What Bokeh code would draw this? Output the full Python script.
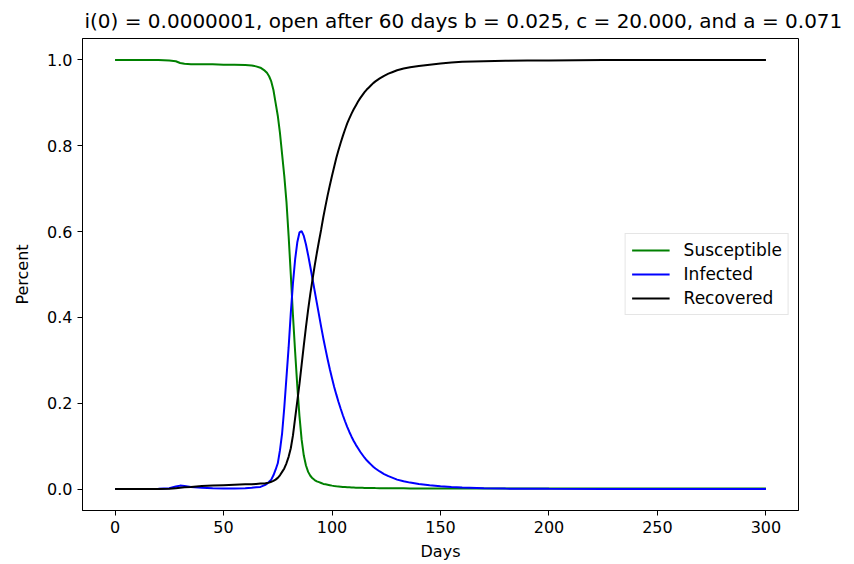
from bokeh.plotting import figure
from bokeh.models import ColumnDataSource, Range1d, FixedTicker, NumeralTickFormatter
from bokeh.embed import file_html
from bokeh.resources import INLINE

title_text = "i(0) = 0.0000001, open after 60 days b = 0.025, c = 20.000, and a = 0.071"

days = [0, 10, 20, 25, 28, 30, 32, 35, 40, 45, 50, 55, 60, 63, 65, 67, 69, 70, 71, 72,
        73, 74, 75, 76, 77, 78, 79, 80, 81, 82, 83, 84, 85, 86, 87, 88, 89, 90, 91, 92,
        93, 94, 95, 96, 97, 98, 99, 100, 101, 102, 103, 104, 105, 106, 107, 108, 109, 110,
        111, 112, 113, 114, 115, 116, 117, 118, 119, 120, 122, 124, 126, 128, 130, 133,
        136, 140, 145, 150, 155, 160, 170, 180, 190, 200, 225, 250, 275, 300]

susceptible = [1.0, 1.0, 1.0, 0.999, 0.997, 0.993, 0.991, 0.990, 0.990, 0.990, 0.989, 0.989,
               0.988, 0.987, 0.985, 0.982, 0.975, 0.970, 0.962, 0.950,
               0.930, 0.900, 0.870, 0.830, 0.780, 0.730, 0.670, 0.590, 0.500, 0.405,
               0.320, 0.240, 0.170, 0.115, 0.078, 0.055, 0.040, 0.031, 0.025, 0.021,
               0.018, 0.016, 0.014, 0.012, 0.011, 0.010, 0.009, 0.008, 0.0072, 0.0065, 0.006,
               0.0055, 0.005, 0.0046, 0.0042, 0.0039, 0.0036, 0.0034,
               0.0032, 0.003, 0.0029, 0.0028, 0.0027, 0.0026, 0.0025, 0.0024, 0.0023, 0.0022,
               0.0021, 0.002, 0.0019, 0.0018, 0.0017, 0.0016,
               0.0015, 0.0015, 0.0014, 0.0013, 0.0013, 0.0012, 0.0011, 0.001, 0.001, 0.001,
               0.001, 0.001, 0.001, 0.001]

infected = [0.0, 0.0, 0.0005, 0.002, 0.006, 0.008, 0.007, 0.005, 0.003, 0.002, 0.0015, 0.0015,
            0.002, 0.003, 0.004, 0.005, 0.009, 0.012, 0.017, 0.022,
            0.032, 0.045, 0.060, 0.090, 0.130, 0.190, 0.260, 0.330, 0.410, 0.480,
            0.535, 0.575, 0.598, 0.601, 0.590, 0.570, 0.545, 0.518, 0.490, 0.462,
            0.434, 0.406, 0.378, 0.351, 0.326, 0.302, 0.279, 0.258, 0.238, 0.220, 0.203,
            0.187, 0.172, 0.158, 0.145, 0.133, 0.122, 0.112,
            0.103, 0.095, 0.087, 0.080, 0.073, 0.067, 0.062, 0.057, 0.052, 0.048,
            0.041, 0.035, 0.030, 0.026, 0.022, 0.018,
            0.015, 0.012, 0.009, 0.0065, 0.0048, 0.0035, 0.0019, 0.001, 0.0006, 0.0004,
            0.0001, 0.0, 0.0, 0.0]

recovered = [0.0, 0.0, 0.0, 0.0005, 0.002, 0.003, 0.004, 0.005, 0.007, 0.008, 0.009, 0.010,
             0.011, 0.011, 0.012, 0.013, 0.013, 0.014, 0.015, 0.017,
             0.019, 0.022, 0.026, 0.032, 0.040, 0.048, 0.060, 0.075, 0.095, 0.125,
             0.165, 0.205, 0.245, 0.290, 0.335, 0.378, 0.418, 0.455, 0.488, 0.520,
             0.550, 0.578, 0.605, 0.634, 0.660, 0.685, 0.708, 0.730, 0.751, 0.772, 0.790,
             0.807, 0.823, 0.838, 0.852, 0.864, 0.875, 0.885,
             0.894, 0.903, 0.911, 0.918, 0.925, 0.931, 0.936, 0.941, 0.946, 0.950,
             0.957, 0.963, 0.968, 0.972, 0.976, 0.980,
             0.983, 0.986, 0.989, 0.992, 0.994, 0.996, 0.997, 0.998, 0.999, 0.999,
             1.0, 1.0, 1.0, 1.0]

x_ticks = [0, 50, 100, 150, 200, 250, 300]
y_ticks = [0.0, 0.2, 0.4, 0.6, 0.8, 1.0]

src = ColumnDataSource(dict(days=days, s=susceptible, i=infected, r=recovered))

FONT = "DejaVu Sans"

p = figure(width=854, height=564, output_backend="svg", toolbar_location=None,
           x_range=Range1d(-15, 315), y_range=Range1d(-0.05, 1.05),
           min_border_left=82, min_border_right=56, min_border_top=38, min_border_bottom=54)

p.title.text = title_text
p.title.align = "left"
p.title.offset = 2
p.title.standoff = 12
p.title.text_line_height = 0.8
p.title.text_font = FONT
p.title.text_font_size = "20px"
p.title.text_font_style = "normal"
p.title.text_color = "black"

p.line("days", "s", source=src, color="green", line_width=2, legend_label="Susceptible")
p.line("days", "i", source=src, color="blue", line_width=2, legend_label="Infected")
p.line("days", "r", source=src, color="black", line_width=2, legend_label="Recovered")

p.xgrid.visible = False
p.ygrid.visible = False
p.outline_line_color = "black"
p.outline_line_width = 1
p.outline_line_alpha = 1
p.background_fill_color = "white"
p.border_fill_color = "white"

p.xaxis.ticker = FixedTicker(ticks=x_ticks)
p.yaxis.ticker = FixedTicker(ticks=y_ticks)
p.yaxis.formatter = NumeralTickFormatter(format="0.0")
p.xaxis.axis_label = "Days"
p.yaxis.axis_label = "Percent"
for ax in (p.xaxis, p.yaxis):
    ax.axis_label_text_font = FONT
    ax.axis_label_text_font_size = "16px"
    ax.axis_label_text_font_style = "normal"
    ax.axis_label_text_color = "black"
    ax.major_label_text_font = FONT
    ax.major_label_text_font_size = "16px"
    ax.major_label_text_color = "black"
    ax.minor_tick_line_color = None
    ax.major_tick_out = 5
    ax.major_tick_in = 0
    ax.major_tick_line_color = "black"
    ax.axis_line_color = "black"
p.xaxis.axis_label_standoff = 6
p.yaxis.axis_label_standoff = 12

p.legend.location = "center_right"
p.legend.label_text_font = FONT
p.legend.label_text_font_size = "17px"
p.legend.label_text_color = "black"
p.legend.border_line_color = "#cccccc"
p.legend.border_line_width = 1
p.legend.background_fill_alpha = 0.8
p.legend.glyph_width = 38
p.legend.label_standoff = 14
p.legend.spacing = 4
p.legend.padding = 6
p.legend.margin = 9

open("out.html", "w").write(file_html(p, INLINE))
